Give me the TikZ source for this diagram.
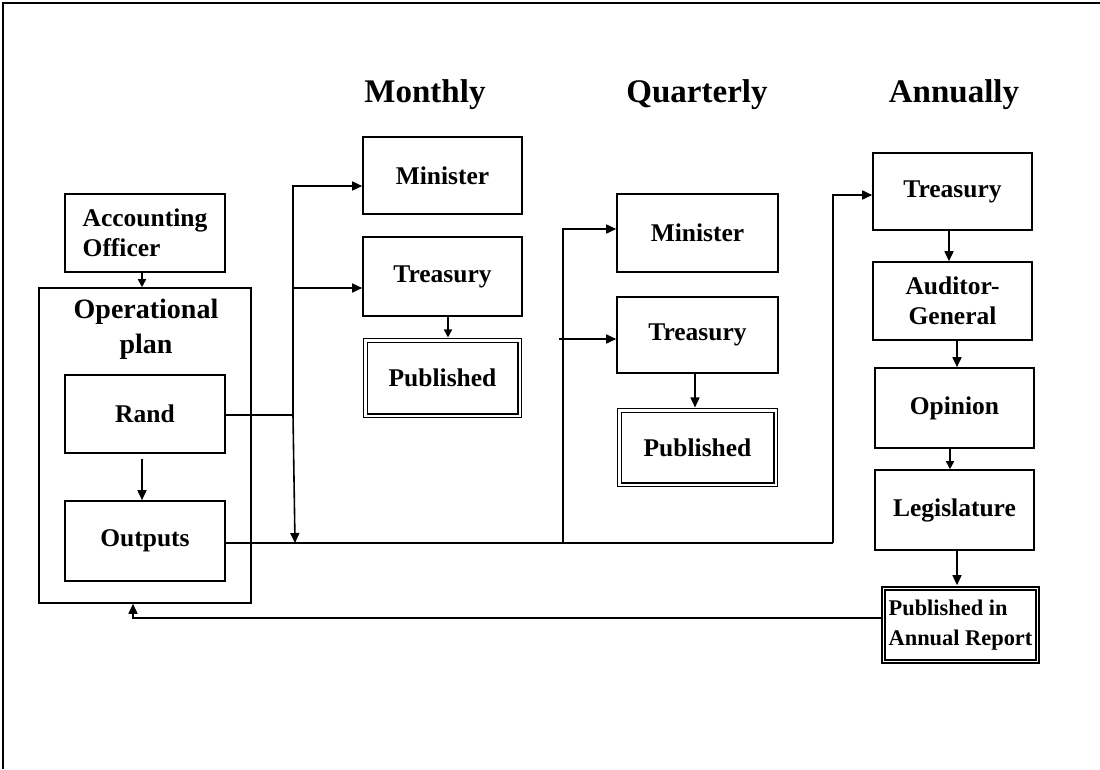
\documentclass[tikz,border=0pt]{standalone}
\usepackage{fontspec}
\setmainfont{Liberation Serif}
\usetikzlibrary{arrows.meta,calc}
\newcommand\bxfont{\fontsize{25.5}{30}\selectfont\bfseries}
\newcommand\hdfont{\fontsize{33}{40}\selectfont\bfseries}
\newcommand\opfont{\fontsize{28}{35}\selectfont\bfseries}
\newcommand\pubfont{\fontsize{22.4}{30}\selectfont\bfseries}
\begin{document}
\begin{tikzpicture}[x=1pt,y=-1pt,line width=1.6pt,
  box/.style={draw,rectangle,inner sep=0pt,align=center,font=\bxfont},
  dbox/.style={box,double,double distance=2.4pt,line width=1.1pt},
  tbox/.style={box,double,double distance=1.5pt,line width=1.8pt,font=\pubfont,align=left},
  head/.style={anchor=base,font=\hdfont},
  arr/.style={-{Triangle[length=10pt,width=9pt]}},
  arrs/.style={-{Triangle[length=8pt,width=8pt]}}]
\useasboundingbox (0,0) rectangle (1100,769);
% frame
\draw[line width=2pt] (3,769) -- (3,3) -- (1100,3);
% headings
\node[head] (hm) at (425,102) {Monthly};
\node[head] (hq) at (697,102) {Quarterly};
\node[head] (ha) at (954,102) {Annually};
% left column
\node[box,align=left,minimum width=160pt,minimum height=78pt] (ao) at (145,233) {Accounting\\Officer};
\node[box,minimum width=212pt,minimum height=315pt] (op) at (145,445.5) {};
\node[font=\opfont,align=center,inner sep=0pt] (optitle) at (146,329.5) {Operational\\plan};
\node[box,minimum width=160pt,minimum height=78pt] (rand) at (145,414) {Rand};
\node[box,minimum width=160pt,minimum height=80pt] (outputs) at (145,541) {Outputs};
% monthly
\node[box,minimum width=159pt,minimum height=77pt] (mmin) at (442.5,175.5) {Minister};
\node[box,minimum width=159pt,minimum height=79pt] (mtre) at (442.5,276.5) {Treasury};
\node[dbox,minimum width=154.4pt,minimum height=75.4pt] (mpub) at (442.5,378) {Published};
% quarterly
\node[box,minimum width=161pt,minimum height=78pt] (qmin) at (697.5,233) {Minister};
\node[box,minimum width=161pt,minimum height=76pt] (qtre) at (697.5,335) {Treasury};
\node[dbox,minimum width=156.4pt,minimum height=74.4pt] (qpub) at (697.5,447.5) {Published};
% annually
\node[box,minimum width=159pt,minimum height=77pt] (atre) at (952.5,191.5) {Treasury};
\node[box,minimum width=159pt,minimum height=78pt] (aag) at (952.5,301) {Auditor-\\General};
\node[box,minimum width=159pt,minimum height=80pt] (aop) at (954.5,408) {Opinion};
\node[box,minimum width=159pt,minimum height=80pt] (aleg) at (954.5,510) {Legislature};
\node[tbox,minimum width=153.9pt,minimum height=72.9pt] (apar) at (960.5,625) {Published in\\Annual Report};
% junction coordinates
\coordinate (j1) at (293,415);
\coordinate (jt) at (293,288);
\coordinate (jm) at (295,543);
\coordinate (jq) at (563,543);
\coordinate (ja) at (833,543);
\coordinate (qs) at (559,339);
% connectors
\draw (rand.east |- j1) -- (j1);
\draw[arr] (j1) |- (mmin.west |- 0,186);
\draw[arr] (jt) -- (mtre.west |- jt);
\draw[arr] (j1) -- (jm);
\draw (outputs.east |- jm) -- (ja);
\draw[arr] (ja) |- (atre.west |- 0,195);
\draw[arr] (jq) |- (qmin.west |- 0,229);
\draw[arr] (qs) -- (qtre.west |- qs);
\draw[arrs] (ao.south -| 142,0) -- (op.north -| 142,0);
\draw[arr] ($(rand.south -| 142,0)+(0,5)$) -- (outputs.north -| 142,0);
\draw[arrs,shorten >=2.3pt] (mtre.south -| 448,0) -- (mpub.north -| 448,0);
\draw[arr,shorten >=2.3pt] (qtre.south -| 695,0) -- (qpub.north -| 695,0);
\draw[arr] (atre.south -| 949,0) -- (aag.north -| 949,0);
\draw[arr] (aag.south -| 957,0) -- (aop.north -| 957,0);
\draw[arrs] (aop.south -| 950,0) -- (aleg.north -| 950,0);
\draw[arr,shorten >=2.5pt] (aleg.south -| 957,0) -- (apar.north -| 957,0);
\draw[arr] (apar.west |- 0,618) -| (op.south -| 133,0);
\end{tikzpicture}
\end{document}
